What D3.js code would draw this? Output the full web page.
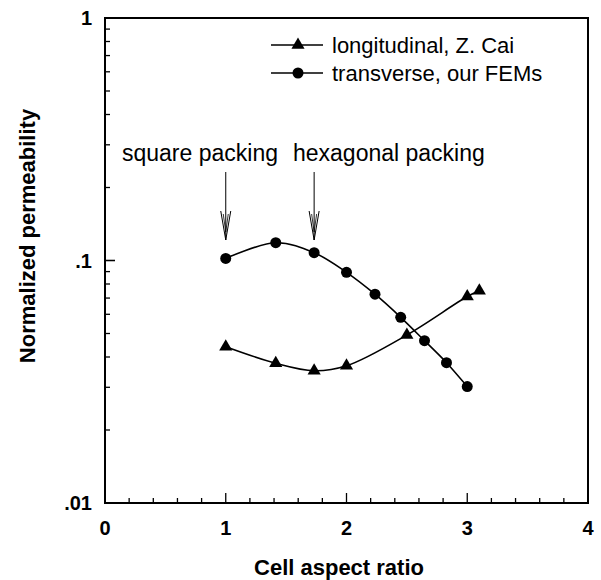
<!DOCTYPE html>
<meta charset="utf-8">
<head>
  <title>Normalized permeability vs cell aspect ratio</title>
</head>
<style>
  body { margin: 0; background: #fff; }
  text { font-family: "Liberation Sans", Arial, Helvetica, sans-serif; fill: #000; }
</style>
<body>
  <svg width="601" height="580"></svg>

  <script src="https://cdn.jsdelivr.net/npm/d3@7"></script>
  <script>

// data
var longX = [1.0, 1.414, 1.732, 2.0, 2.5, 3.0, 3.1];
var longY = [0.0441, 0.0377, 0.0351, 0.0368, 0.0493, 0.071, 0.075];

var transX = [1.0, 1.414, 1.732, 2.0, 2.236, 2.449, 2.646, 2.828, 3.0];
var transY = [0.102, 0.1184, 0.1077, 0.0894, 0.0726, 0.0583, 0.0467, 0.0379, 0.0302];

var xTicks = [0, 1, 2, 3, 4];
var yTicks = [0.01, 0.1, 1];
var yTickLabels = [".01", ".1", "1"];

var legendLabels = ["longitudinal, Z. Cai", "transverse, our FEMs"];
var notes = [{label: "square packing", x: 1.0}, {label: "hexagonal packing", x: 1.732}];

var svg = d3.select("svg");

var pLeft = 105, pRight = 588, pTop = 18, pBottom = 503;

var x = d3.scaleLinear().domain([0, 4]).range([pLeft, pRight]);
var y = d3.scaleLog().domain([0.01, 1]).range([pBottom, pTop]);

// frame
svg.append("rect")
    .attr("x", pLeft).attr("y", pTop)
    .attr("width", pRight - pLeft).attr("height", pBottom - pTop)
    .style("fill", "none").style("stroke", "#000").style("stroke-width", 2);

// x ticks (inward)
var xMinor = d3.range(0, 4.0001, 0.2);
svg.selectAll(".xminor").data(xMinor).enter().append("line")
    .attr("x1", d => x(d)).attr("x2", d => x(d))
    .attr("y1", pBottom)
    .attr("y2", d => Math.abs(d - Math.round(d)) < 1e-6 ? pBottom - 10 : pBottom - 5)
    .style("stroke", "#000").style("stroke-width", 1.3);

svg.selectAll(".xlab").data(xTicks).enter().append("text")
    .attr("x", d => x(d)).attr("y", 535)
    .attr("text-anchor", "middle")
    .style("font-size", "20px").style("font-weight", "bold")
    .text(d => d);

// y ticks (inward)
var yMinor = [];
[0.01, 0.1].forEach(function(dec) {
  for (var k = 1; k <= 10; k++) yMinor.push(dec * k);
});
svg.selectAll(".yminor").data(yMinor).enter().append("line")
    .attr("y1", d => y(d)).attr("y2", d => y(d))
    .attr("x1", pLeft)
    .attr("x2", d => yTicks.some(t => Math.abs(t - d) / t < 1e-6) ? pLeft + 10 : pLeft + 5)
    .style("stroke", "#000").style("stroke-width", 1.3);

svg.selectAll(".ylab").data(yTicks).enter().append("text")
    .attr("x", 92).attr("y", d => y(d) + 7)
    .attr("text-anchor", "end")
    .style("font-size", "20px").style("font-weight", "bold")
    .text((d, i) => yTickLabels[i]);

// axis titles
svg.append("text")
    .attr("x", 339).attr("y", 575)
    .attr("text-anchor", "middle")
    .style("font-size", "22px").style("font-weight", "bold")
    .text("Cell aspect ratio");

svg.append("text")
    .attr("transform", "translate(35,236) rotate(-90)")
    .attr("text-anchor", "middle")
    .style("font-size", "22px").style("font-weight", "bold")
    .text("Normalized permeability");

// curves
var line = d3.line()
    .x(d => x(d[0])).y(d => y(d[1]))
    .curve(d3.curveCatmullRom.alpha(0.5));

var longPts = longX.map((v, i) => [v, longY[i]]);
var transPts = transX.map((v, i) => [v, transY[i]]);

svg.append("path").attr("d", line(longPts))
    .style("fill", "none").style("stroke", "#000").style("stroke-width", 1.6);
svg.append("path").attr("d", line(transPts))
    .style("fill", "none").style("stroke", "#000").style("stroke-width", 1.6);

var tri = d3.symbol().type(d3.symbolTriangle).size(75);

svg.selectAll(".tri").data(longPts).enter().append("path")
    .attr("d", tri)
    .attr("transform", d => "translate(" + x(d[0]) + "," + y(d[1]) + ")")
    .style("fill", "#000");

svg.selectAll(".dot").data(transPts).enter().append("circle")
    .attr("cx", d => x(d[0])).attr("cy", d => y(d[1]))
    .attr("r", 5.5)
    .style("fill", "#000");

// legend
var legY = [45, 73];
legendLabels.forEach(function(lab, i) {
  var g = svg.append("g");
  g.append("line").attr("x1", 271).attr("x2", 323)
      .attr("y1", legY[i]).attr("y2", legY[i])
      .style("stroke", "#000").style("stroke-width", 1.6);
  if (i == 0) {
    g.append("path").attr("d", tri)
        .attr("transform", "translate(298," + legY[i] + ")")
        .style("fill", "#000");
  } else {
    g.append("circle").attr("cx", 298).attr("cy", legY[i]).attr("r", 5.5)
        .style("fill", "#000");
  }
  g.append("text").attr("x", 332).attr("y", legY[i] + 8)
      .style("font-size", "22px")
      .text(lab);
});

// packing annotations with arrows
var noteX = [122, 293];
notes.forEach(function(n, i) {
  svg.append("text").attr("x", noteX[i]).attr("y", 161)
      .style("font-size", "23px")
      .text(n.label);
  var ax = x(n.x);
  svg.append("line").attr("x1", ax).attr("x2", ax)
      .attr("y1", 172).attr("y2", 240)
      .style("stroke", "#000").style("stroke-width", 1);
  svg.append("path")
      .attr("d", "M" + (ax - 5) + ",211 L" + ax + ",240 L" + (ax + 5) + ",211")
      .style("fill", "none").style("stroke", "#000").style("stroke-width", 1);
  svg.append("path")
      .attr("d", "M" + (ax - 2.5) + ",214 L" + ax + ",232 L" + (ax + 2.5) + ",214")
      .style("fill", "none").style("stroke", "#000").style("stroke-width", 0.8);
});

  </script>
</body>
</html>
